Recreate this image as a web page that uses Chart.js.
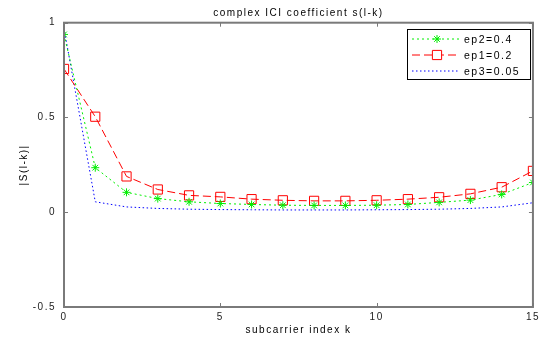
<!DOCTYPE html>
<html>
<head>
<meta charset="utf-8">
<script src="https://cdn.jsdelivr.net/npm/chart.js@4/dist/chart.umd.min.js"></script>
<style>
  body { margin: 0; background: #fff; }
</style>
</head>
<body>
<canvas id="chart" width="544" height="338"></canvas>
<script>
// subcarrier index k
const kValues = [0, 1, 2, 3, 4, 5, 6, 7, 8, 9, 10, 11, 12, 13, 14, 15];
// |S(l-k)|
const ep2Values = [0.938, 0.235, 0.105, 0.072, 0.055, 0.046, 0.041, 0.037, 0.036, 0.036, 0.037, 0.041, 0.052, 0.064, 0.094, 0.157];
const ep1Values = [0.756, 0.504, 0.189, 0.120, 0.089, 0.081, 0.069, 0.063, 0.060, 0.060, 0.063, 0.069, 0.079, 0.097, 0.132, 0.218];
const ep3Values = [0.970, 0.055, 0.028, 0.020, 0.016, 0.014, 0.013, 0.012, 0.012, 0.012, 0.013, 0.014, 0.016, 0.020, 0.028, 0.050];
const seriesLabels = ['ep2=0.4', 'ep1=0.2', 'ep3=0.05'];
const xTicks = [0, 5, 10, 15];
const yTicks = [-0.5, 0, 0.5, 1];

const FONT = 'Liberation Sans, Arial, sans-serif';
const SPACING = '1.5px';   // the original figure's text is stretched sideways
const toPoints = vals => kValues.map((k, i) => ({ x: k, y: vals[i] }));

const spacingPlugin = {
    id: 'spacing',
    beforeLayout(chart) { chart.ctx.letterSpacing = SPACING; },
    beforeDraw(chart) { chart.ctx.letterSpacing = SPACING; }
};

// MATLAB-style box with inward ticks plus the legend box
const boxPlugin = {
    id: 'matlabBox',
    afterDraw(chart) {
        const { ctx, chartArea: a, scales } = chart;
        ctx.save();
        ctx.strokeStyle = '#7a7a7a';
        ctx.lineWidth = 2;
        ctx.strokeRect(a.left, a.top, a.right - a.left, a.bottom - a.top);
        ctx.lineWidth = 1;
        ctx.beginPath();
        xTicks.forEach(v => {
            const px = Math.round(scales.x.getPixelForValue(v)) + 0.5;
            ctx.moveTo(px, a.bottom); ctx.lineTo(px, a.bottom - 4);
            ctx.moveTo(px, a.top); ctx.lineTo(px, a.top + 4);
        });
        yTicks.forEach(v => {
            const py = Math.round(scales.y.getPixelForValue(v)) + 0.5;
            ctx.moveTo(a.left, py); ctx.lineTo(a.left + 4, py);
            ctx.moveTo(a.right, py); ctx.lineTo(a.right - 4, py);
        });
        ctx.stroke();

        // legend
        const lx = 407, ly = 29, lw = 123, lh = 50;
        ctx.fillStyle = '#fff';
        ctx.fillRect(lx, ly, lw, lh);
        ctx.strokeStyle = '#000';
        ctx.strokeRect(lx + 0.5, ly + 0.5, lw, lh);
        ctx.font = '10.5px ' + FONT;
        ctx.textBaseline = 'middle';
        ctx.textAlign = 'left';
        chart.data.datasets.forEach((ds, i) => {
            const y = ly + 10 + i * 16;
            ctx.strokeStyle = ds.borderColor;
            ctx.lineWidth = 1;
            ctx.setLineDash(ds.borderDash || []);
            ctx.beginPath();
            ctx.moveTo(lx + 5, y); ctx.lineTo(lx + 53, y);
            ctx.stroke();
            ctx.setLineDash([]);
            if (ds.pointRadius > 0) {
                ctx.fillStyle = '#fff';
                Chart.helpers.drawPoint(ctx, {
                    pointStyle: ds.pointStyle, radius: ds.pointRadius, rotation: 0, borderWidth: 1
                }, lx + 30, y);
            }
            ctx.fillStyle = '#000';
            ctx.fillText(ds.label, lx + 57, y + 1);
        });
        ctx.restore();
    }
};

const tickFont = { family: FONT, size: 10 };

new Chart(document.getElementById('chart'), {
    type: 'line',
    data: {
        datasets: [
            {
                label: seriesLabels[0],
                data: toPoints(ep2Values),
                borderColor: '#00ee00',
                borderWidth: 1,
                borderDash: [2, 3],
                pointStyle: 'star',
                pointRadius: 4,
                pointBorderColor: '#00ee00',
                pointBorderWidth: 1,
                pointBackgroundColor: 'rgba(0,0,0,0)',
                fill: false
            },
            {
                label: seriesLabels[1],
                data: toPoints(ep1Values),
                borderColor: '#ff0000',
                borderWidth: 1,
                borderDash: [8, 4],
                pointStyle: 'rect',
                pointRadius: 6.5,
                pointBorderColor: '#ff0000',
                pointBorderWidth: 1,
                pointBackgroundColor: 'rgba(0,0,0,0)',
                fill: false
            },
            {
                label: seriesLabels[2],
                data: toPoints(ep3Values),
                borderColor: '#0000ff',
                borderWidth: 1,
                borderDash: [1.5, 2.5],
                pointRadius: 0,
                fill: false
            }
        ]
    },
    options: {
        responsive: false,
        animation: false,
        devicePixelRatio: 1,
        layout: { padding: { right: 8, top: 0 } },
        plugins: {
            legend: { display: false },
            tooltip: { enabled: false },
            title: {
                display: true,
                fullSize: false,
                text: 'complex ICI coefficient s(l-k)',
                color: '#000',
                font: { family: FONT, size: 10, weight: 'normal' },
                padding: { top: 7, bottom: 3.7 }
            }
        },
        scales: {
            x: {
                type: 'linear',
                min: 0,
                max: 15,
                afterBuildTicks: s => { s.ticks = xTicks.map(v => ({ value: v })); },
                afterFit: s => { s.height = 31; },
                ticks: { color: '#222', font: tickFont, padding: 4, maxRotation: 0, callback: v => String(v) },
                grid: { display: false, drawTicks: false },
                border: { display: false },
                title: {
                    display: true,
                    text: 'subcarrier index k',
                    color: '#000',
                    font: tickFont,
                    padding: { top: 0, bottom: 2 }
                }
            },
            y: {
                min: -0.5,
                max: 1,
                afterBuildTicks: s => { s.ticks = yTicks.map(v => ({ value: v })); },
                afterFit: s => { s.width = 64; },
                ticks: { color: '#222', font: tickFont, padding: 8, callback: v => String(v) },
                grid: { display: false, drawTicks: false },
                border: { display: false },
                title: {
                    display: true,
                    text: '|S(l-k)|',
                    color: '#000',
                    font: tickFont,
                    padding: { top: 18, bottom: 0 }
                }
            }
        }
    },
    plugins: [spacingPlugin, boxPlugin]
});
</script>
</body>
</html>
